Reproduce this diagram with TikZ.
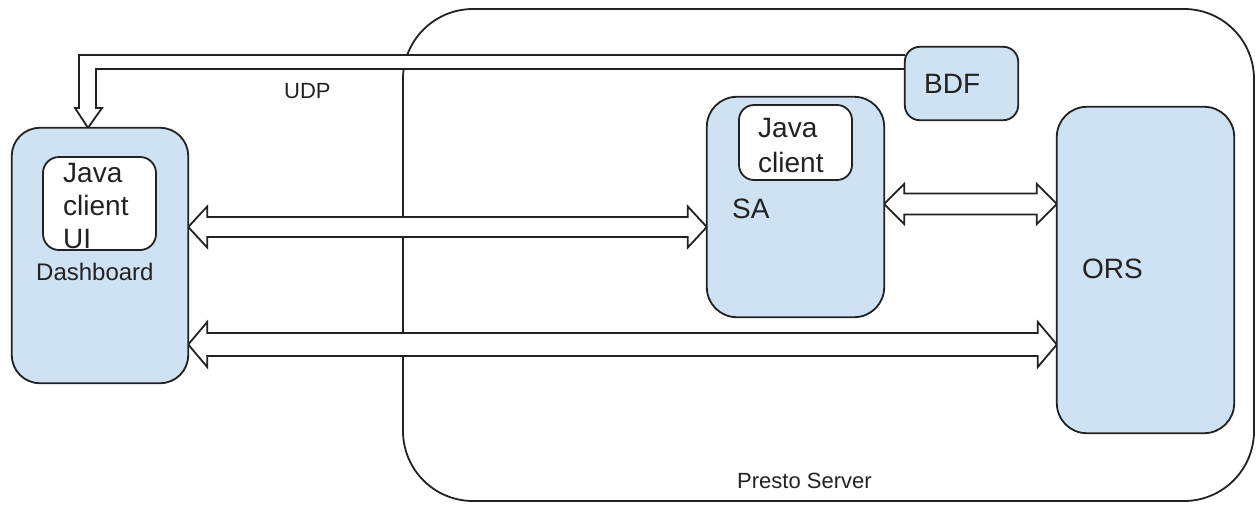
\documentclass[tikz,border=0pt]{standalone}
\usepackage{fontspec}
\setmainfont{Liberation Sans}
\usetikzlibrary{calc}
\definecolor{boxblue}{HTML}{CFE2F3}
\definecolor{ink}{HTML}{222222}
\tikzset{
  bluebox/.style={draw=ink, line width=1.8pt, fill=boxblue, inner sep=0pt},
  whitebox/.style={draw=ink, line width=1.8pt, fill=white, inner sep=0pt},
  lbl/.style={anchor=base west, inner sep=0pt, text=ink},
  big/.style={font=\fontsize{28}{34}\selectfont},
  mid/.style={font=\fontsize{24}{29}\selectfont},
  small/.style={font=\fontsize{22}{27}\selectfont},
  blk/.style={draw=ink, line width=1.8pt, fill=white, line join=miter},
}
% #1 left tip, #2 right tip, #3 shaft half width, #4 head half width, #5 head length
\newcommand\dblblock[5]{%
  \draw[blk] (#1) -- ($(#1)+(#5,-#4)$) -- ($(#1)+(#5,-#3)$) -- ($(#2)+(-#5,-#3)$)
    -- ($(#2)+(-#5,-#4)$) -- (#2) -- ($(#2)+(-#5,#4)$) -- ($(#2)+(-#5,#3)$)
    -- ($(#1)+(#5,#3)$) -- ($(#1)+(#5,#4)$) -- cycle;}
\begin{document}
\begin{tikzpicture}[x=1pt,y=-1pt]
\useasboundingbox (0,0) rectangle (1256,504);
% Presto server container
\draw[draw=ink, line width=1.8pt, rounded corners=70pt] (403,9) rectangle (1254,501);
\node[lbl, small] (presto) at (737,488) {Presto Server};

% boxes (positions only, drawn later on top of arrows)
\coordinate (dashNW) at (12,128);
\coordinate (dashSE) at (188,383);
\path (dashNW) -- (dashSE) coordinate[pos=0.5] (dashC);
\node[minimum width=176pt, minimum height=255pt, inner sep=0pt] (dash) at (dashC) {};
\node[minimum width=177pt, minimum height=220pt, inner sep=0pt] (sa) at (795.5,207) {};
\node[minimum width=177pt, minimum height=326pt, inner sep=0pt] (ors) at (1145.5,270) {};
\node[minimum width=113pt, minimum height=73pt, inner sep=0pt] (bdf) at (961.5,83.5) {};

% UDP arrow from BDF to Dashboard
\coordinate (udptip) at (dash.north -| 88,0);
\draw[blk, fill=white] (bdf.west |- 0,55) -- (79,55) -- (79,108) -- (75,108) -- (udptip)
  -- (102,108) -- (96,108) -- (96,69) -- (bdf.west |- 0,69);
\node[lbl, small] (udp) at (284,98) {UDP};

% double block arrows
\coordinate (a1l) at (dash.east |- 0,227);
\coordinate (a1r) at (sa.west |- 0,227);
\dblblock{a1l}{a1r}{10}{20.5}{19}
\coordinate (a2l) at (sa.east |- 0,204);
\coordinate (a2r) at (ors.west |- 0,204);
\dblblock{a2l}{a2r}{10.5}{20}{20}
\coordinate (a3l) at (dash.east |- 0,344.5);
\coordinate (a3r) at (ors.west |- 0,344.5);
\dblblock{a3l}{a3r}{11.5}{22.5}{19}

% Dashboard
\draw[bluebox, rounded corners=28pt] (dash.north west) rectangle (dash.south east);
\node[whitebox, rounded corners=16pt, minimum width=113pt, minimum height=93pt] (djc) at (99.5,203.5) {};
\node[lbl, big] (dj1) at (63,182) {Java};
\node[lbl, big] (dj2) at (63,215) {client};
\node[lbl, big] (dj3) at (63,248) {UI};
\node[lbl, mid] (dashlbl) at (36,280) {Dashboard};

% SA
\draw[bluebox, rounded corners=30pt] (sa.north west) rectangle (sa.south east);
\node[whitebox, rounded corners=15pt, minimum width=113pt, minimum height=75pt] (sajc) at (795.5,142.5) {};
\node[lbl, big] (sj1) at (758,137) {Java};
\node[lbl, big] (sj2) at (758,172) {client};
\node[lbl, big] (salbl) at (732,218) {SA};

% BDF
\draw[bluebox, rounded corners=15pt] (bdf.north west) rectangle (bdf.south east);
\node[lbl, big] (bdflbl) at (924,93) {BDF};

% ORS
\draw[bluebox, rounded corners=30pt] (ors.north west) rectangle (ors.south east);
\node[lbl, big] (orslbl) at (1082,278) {ORS};
\end{tikzpicture}
\end{document}
